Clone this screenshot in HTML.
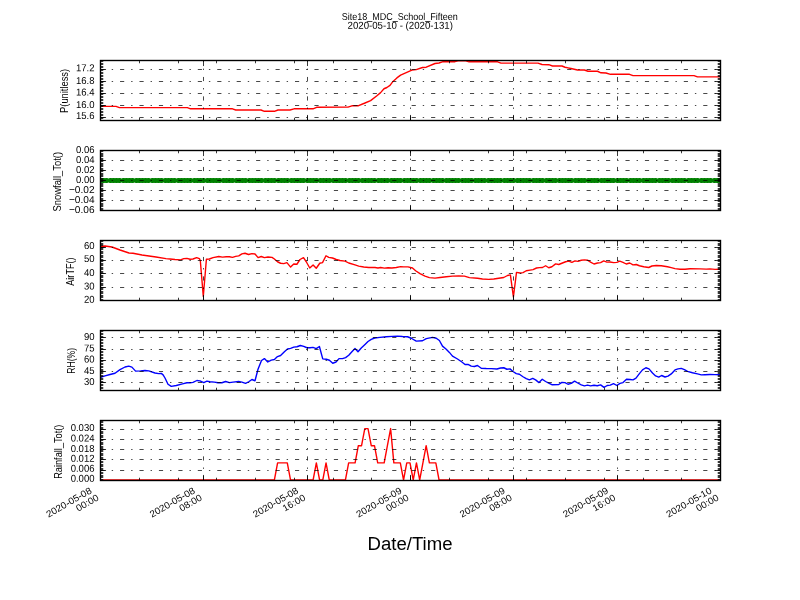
<!DOCTYPE html>
<html><head><meta charset="utf-8"><title>Site18_MDC_School_Fifteen</title>
<style>
html,body{margin:0;padding:0;background:#fff;}
body{width:800px;height:600px;overflow:hidden;position:relative;font-family:"Liberation Sans",sans-serif;}
svg text{font-family:"Liberation Sans",sans-serif;fill:#000;}
svg text.t{font-size:10px;}
svg text.x{font-size:9.4px;}
</style></head><body>
<svg width="800" height="600" viewBox="0 0 800 600" style="position:absolute;left:0;top:0;will-change:transform">
<rect x="0" y="0" width="800" height="600" fill="#fff"/>
<defs>
<clipPath id="c0"><rect x="100" y="60" width="620" height="60"/></clipPath>
<clipPath id="c1"><rect x="100" y="150" width="620" height="60"/></clipPath>
<clipPath id="c2"><rect x="100" y="240" width="620" height="60"/></clipPath>
<clipPath id="c3"><rect x="100" y="330" width="620" height="60"/></clipPath>
<clipPath id="c4"><rect x="100" y="420" width="620" height="60"/></clipPath>
</defs>
<g clip-path="url(#c0)">
<polyline points="100.00,106.40 116.00,106.40 119.40,107.60 187.40,107.60 190.50,108.80 232.50,108.80 235.70,110.00 261.00,110.00 264.40,111.30 274.40,111.30 278.00,110.00 290.00,110.00 294.00,108.80 313.00,108.80 316.60,107.30 348.00,107.10 351.90,105.80 358.00,105.80 364.40,103.25 370.60,100.60 376.90,95.75 380.60,92.60 384.00,88.75 386.90,87.50 390.00,85.40 393.00,81.40 396.90,77.90 400.60,75.10 406.25,72.60 411.90,70.10 416.25,69.60 422.50,67.50 426.25,67.20 435.00,63.50 439.00,63.00 443.00,61.70 455.00,61.70 459.00,60.70 465.00,60.70 469.00,61.80 497.60,61.80 501.00,63.10 538.00,63.10 542.00,64.50 548.75,64.70 552.50,66.00 562.00,66.00 565.00,67.25 568.00,67.90 571.00,68.50 577.50,70.00 584.40,70.00 588.00,71.25 597.50,71.25 601.00,72.80 606.00,73.00 610.50,74.30 629.50,74.30 633.00,75.60 694.00,75.60 697.50,76.90 720.00,76.90" fill="none" stroke="#ff0000" stroke-width="1.39" stroke-linejoin="round" stroke-linecap="butt"/>
</g>
<path d="M100.6 117.5H720 M100.6 105.5H720 M100.6 93.5H720 M100.6 81.5H720 M100.6 69.5H720 M100.5 120V60 M203.5 120V60 M307.5 120V60 M410.5 120V60 M513.5 120V60 M617.5 120V60 M720.5 120V60" fill="none" stroke="#000" stroke-width="0.72" stroke-dasharray="4.17 6.94 1.39 6.94"/>
<path d="M100.5 120.5v-5.56 M100.5 60.5v5.56 M203.5 120.5v-5.56 M203.5 60.5v5.56 M307.5 120.5v-5.56 M307.5 60.5v5.56 M410.5 120.5v-5.56 M410.5 60.5v5.56 M513.5 120.5v-5.56 M513.5 60.5v5.56 M617.5 120.5v-5.56 M617.5 60.5v5.56 M720.5 120.5v-5.56 M720.5 60.5v5.56 M100.5 120.5v-2.78 M100.5 60.5v2.78 M139.5 120.5v-2.78 M139.5 60.5v2.78 M178.5 120.5v-2.78 M178.5 60.5v2.78 M216.5 120.5v-2.78 M216.5 60.5v2.78 M255.5 120.5v-2.78 M255.5 60.5v2.78 M294.5 120.5v-2.78 M294.5 60.5v2.78 M333.5 120.5v-2.78 M333.5 60.5v2.78 M371.5 120.5v-2.78 M371.5 60.5v2.78 M410.5 120.5v-2.78 M410.5 60.5v2.78 M449.5 120.5v-2.78 M449.5 60.5v2.78 M488.5 120.5v-2.78 M488.5 60.5v2.78 M526.5 120.5v-2.78 M526.5 60.5v2.78 M565.5 120.5v-2.78 M565.5 60.5v2.78 M604.5 120.5v-2.78 M604.5 60.5v2.78 M643.5 120.5v-2.78 M643.5 60.5v2.78 M681.5 120.5v-2.78 M681.5 60.5v2.78 M720.5 120.5v-2.78 M720.5 60.5v2.78 M100.5 117.5h5.56 M720.5 117.5h-5.56 M100.5 105.5h5.56 M720.5 105.5h-5.56 M100.5 93.5h5.56 M720.5 93.5h-5.56 M100.5 81.5h5.56 M720.5 81.5h-5.56 M100.5 69.5h5.56 M720.5 69.5h-5.56 M100.5 120.5h2.78 M720.5 120.5h-2.78 M100.5 118.5h2.78 M720.5 118.5h-2.78 M100.5 117.5h2.78 M720.5 117.5h-2.78 M100.5 115.5h2.78 M720.5 115.5h-2.78 M100.5 114.5h2.78 M720.5 114.5h-2.78 M100.5 112.5h2.78 M720.5 112.5h-2.78 M100.5 111.5h2.78 M720.5 111.5h-2.78 M100.5 109.5h2.78 M720.5 109.5h-2.78 M100.5 108.5h2.78 M720.5 108.5h-2.78 M100.5 106.5h2.78 M720.5 106.5h-2.78 M100.5 105.5h2.78 M720.5 105.5h-2.78 M100.5 103.5h2.78 M720.5 103.5h-2.78 M100.5 102.5h2.78 M720.5 102.5h-2.78 M100.5 100.5h2.78 M720.5 100.5h-2.78 M100.5 99.5h2.78 M720.5 99.5h-2.78 M100.5 97.5h2.78 M720.5 97.5h-2.78 M100.5 96.5h2.78 M720.5 96.5h-2.78 M100.5 94.5h2.78 M720.5 94.5h-2.78 M100.5 93.5h2.78 M720.5 93.5h-2.78 M100.5 91.5h2.78 M720.5 91.5h-2.78 M100.5 90.5h2.78 M720.5 90.5h-2.78 M100.5 88.5h2.78 M720.5 88.5h-2.78 M100.5 87.5h2.78 M720.5 87.5h-2.78 M100.5 85.5h2.78 M720.5 85.5h-2.78 M100.5 84.5h2.78 M720.5 84.5h-2.78 M100.5 82.5h2.78 M720.5 82.5h-2.78 M100.5 81.5h2.78 M720.5 81.5h-2.78 M100.5 79.5h2.78 M720.5 79.5h-2.78 M100.5 78.5h2.78 M720.5 78.5h-2.78 M100.5 76.5h2.78 M720.5 76.5h-2.78 M100.5 75.5h2.78 M720.5 75.5h-2.78 M100.5 73.5h2.78 M720.5 73.5h-2.78 M100.5 72.5h2.78 M720.5 72.5h-2.78 M100.5 70.5h2.78 M720.5 70.5h-2.78 M100.5 69.5h2.78 M720.5 69.5h-2.78 M100.5 67.5h2.78 M720.5 67.5h-2.78 M100.5 66.5h2.78 M720.5 66.5h-2.78 M100.5 64.5h2.78 M720.5 64.5h-2.78 M100.5 63.5h2.78 M720.5 63.5h-2.78 M100.5 61.5h2.78 M720.5 61.5h-2.78 M100.5 60.5h2.78 M720.5 60.5h-2.78" fill="none" stroke="#000" stroke-width="0.78"/>
<rect x="100.5" y="60.5" width="620" height="60" fill="none" stroke="#000" stroke-width="1.39"/>
<text class="t" transform="rotate(0.05 94.5 119.14)" x="94.5" y="119.14" text-anchor="end" textLength="18.55" lengthAdjust="spacingAndGlyphs">15.6</text>
<text class="t" transform="rotate(0.05 94.5 108.04)" x="94.5" y="108.04" text-anchor="end" textLength="18.55" lengthAdjust="spacingAndGlyphs">16.0</text>
<text class="t" transform="rotate(0.05 94.5 95.54)" x="94.5" y="95.54" text-anchor="end" textLength="18.55" lengthAdjust="spacingAndGlyphs">16.4</text>
<text class="t" transform="rotate(0.05 94.5 84.14)" x="94.5" y="84.14" text-anchor="end" textLength="18.55" lengthAdjust="spacingAndGlyphs">16.8</text>
<text class="t" transform="rotate(0.05 94.5 71.24)" x="94.5" y="71.24" text-anchor="end" textLength="18.55" lengthAdjust="spacingAndGlyphs">17.2</text>
<text class="t" transform="translate(67.60 90.90) rotate(-90)" text-anchor="middle" textLength="44.1" lengthAdjust="spacingAndGlyphs">P(unitless)</text>
<g clip-path="url(#c1)">
<rect x="98.05" y="178.0" width="4.9" height="4.95" rx="1.8" fill="#008000"/>
<rect x="101.05" y="178.0" width="4.9" height="4.95" rx="1.8" fill="#008000"/>
<rect x="104.05" y="178.0" width="4.9" height="4.95" rx="1.8" fill="#008000"/>
<rect x="108.05" y="178.0" width="4.9" height="4.95" rx="1.8" fill="#008000"/>
<rect x="111.05" y="178.0" width="4.9" height="4.95" rx="1.8" fill="#008000"/>
<rect x="114.05" y="178.0" width="4.9" height="4.95" rx="1.8" fill="#008000"/>
<rect x="117.05" y="178.0" width="4.9" height="4.95" rx="1.8" fill="#008000"/>
<rect x="121.05" y="178.0" width="4.9" height="4.95" rx="1.8" fill="#008000"/>
<rect x="124.05" y="178.0" width="4.9" height="4.95" rx="1.8" fill="#008000"/>
<rect x="127.05" y="178.0" width="4.9" height="4.95" rx="1.8" fill="#008000"/>
<rect x="130.05" y="178.0" width="4.9" height="4.95" rx="1.8" fill="#008000"/>
<rect x="134.05" y="178.0" width="4.9" height="4.95" rx="1.8" fill="#008000"/>
<rect x="137.05" y="178.0" width="4.9" height="4.95" rx="1.8" fill="#008000"/>
<rect x="140.05" y="178.0" width="4.9" height="4.95" rx="1.8" fill="#008000"/>
<rect x="143.05" y="178.0" width="4.9" height="4.95" rx="1.8" fill="#008000"/>
<rect x="146.05" y="178.0" width="4.9" height="4.95" rx="1.8" fill="#008000"/>
<rect x="150.05" y="178.0" width="4.9" height="4.95" rx="1.8" fill="#008000"/>
<rect x="153.05" y="178.0" width="4.9" height="4.95" rx="1.8" fill="#008000"/>
<rect x="156.05" y="178.0" width="4.9" height="4.95" rx="1.8" fill="#008000"/>
<rect x="159.05" y="178.0" width="4.9" height="4.95" rx="1.8" fill="#008000"/>
<rect x="163.05" y="178.0" width="4.9" height="4.95" rx="1.8" fill="#008000"/>
<rect x="166.05" y="178.0" width="4.9" height="4.95" rx="1.8" fill="#008000"/>
<rect x="169.05" y="178.0" width="4.9" height="4.95" rx="1.8" fill="#008000"/>
<rect x="172.05" y="178.0" width="4.9" height="4.95" rx="1.8" fill="#008000"/>
<rect x="176.05" y="178.0" width="4.9" height="4.95" rx="1.8" fill="#008000"/>
<rect x="179.05" y="178.0" width="4.9" height="4.95" rx="1.8" fill="#008000"/>
<rect x="182.05" y="178.0" width="4.9" height="4.95" rx="1.8" fill="#008000"/>
<rect x="185.05" y="178.0" width="4.9" height="4.95" rx="1.8" fill="#008000"/>
<rect x="188.05" y="178.0" width="4.9" height="4.95" rx="1.8" fill="#008000"/>
<rect x="192.05" y="178.0" width="4.9" height="4.95" rx="1.8" fill="#008000"/>
<rect x="195.05" y="178.0" width="4.9" height="4.95" rx="1.8" fill="#008000"/>
<rect x="198.05" y="178.0" width="4.9" height="4.95" rx="1.8" fill="#008000"/>
<rect x="201.05" y="178.0" width="4.9" height="4.95" rx="1.8" fill="#008000"/>
<rect x="205.05" y="178.0" width="4.9" height="4.95" rx="1.8" fill="#008000"/>
<rect x="208.05" y="178.0" width="4.9" height="4.95" rx="1.8" fill="#008000"/>
<rect x="211.05" y="178.0" width="4.9" height="4.95" rx="1.8" fill="#008000"/>
<rect x="214.05" y="178.0" width="4.9" height="4.95" rx="1.8" fill="#008000"/>
<rect x="217.05" y="178.0" width="4.9" height="4.95" rx="1.8" fill="#008000"/>
<rect x="221.05" y="178.0" width="4.9" height="4.95" rx="1.8" fill="#008000"/>
<rect x="224.05" y="178.0" width="4.9" height="4.95" rx="1.8" fill="#008000"/>
<rect x="227.05" y="178.0" width="4.9" height="4.95" rx="1.8" fill="#008000"/>
<rect x="230.05" y="178.0" width="4.9" height="4.95" rx="1.8" fill="#008000"/>
<rect x="234.05" y="178.0" width="4.9" height="4.95" rx="1.8" fill="#008000"/>
<rect x="237.05" y="178.0" width="4.9" height="4.95" rx="1.8" fill="#008000"/>
<rect x="240.05" y="178.0" width="4.9" height="4.95" rx="1.8" fill="#008000"/>
<rect x="243.05" y="178.0" width="4.9" height="4.95" rx="1.8" fill="#008000"/>
<rect x="247.05" y="178.0" width="4.9" height="4.95" rx="1.8" fill="#008000"/>
<rect x="250.05" y="178.0" width="4.9" height="4.95" rx="1.8" fill="#008000"/>
<rect x="253.05" y="178.0" width="4.9" height="4.95" rx="1.8" fill="#008000"/>
<rect x="256.05" y="178.0" width="4.9" height="4.95" rx="1.8" fill="#008000"/>
<rect x="259.05" y="178.0" width="4.9" height="4.95" rx="1.8" fill="#008000"/>
<rect x="263.05" y="178.0" width="4.9" height="4.95" rx="1.8" fill="#008000"/>
<rect x="266.05" y="178.0" width="4.9" height="4.95" rx="1.8" fill="#008000"/>
<rect x="269.05" y="178.0" width="4.9" height="4.95" rx="1.8" fill="#008000"/>
<rect x="272.05" y="178.0" width="4.9" height="4.95" rx="1.8" fill="#008000"/>
<rect x="276.05" y="178.0" width="4.9" height="4.95" rx="1.8" fill="#008000"/>
<rect x="279.05" y="178.0" width="4.9" height="4.95" rx="1.8" fill="#008000"/>
<rect x="282.05" y="178.0" width="4.9" height="4.95" rx="1.8" fill="#008000"/>
<rect x="285.05" y="178.0" width="4.9" height="4.95" rx="1.8" fill="#008000"/>
<rect x="289.05" y="178.0" width="4.9" height="4.95" rx="1.8" fill="#008000"/>
<rect x="292.05" y="178.0" width="4.9" height="4.95" rx="1.8" fill="#008000"/>
<rect x="295.05" y="178.0" width="4.9" height="4.95" rx="1.8" fill="#008000"/>
<rect x="298.05" y="178.0" width="4.9" height="4.95" rx="1.8" fill="#008000"/>
<rect x="301.05" y="178.0" width="4.9" height="4.95" rx="1.8" fill="#008000"/>
<rect x="305.05" y="178.0" width="4.9" height="4.95" rx="1.8" fill="#008000"/>
<rect x="308.05" y="178.0" width="4.9" height="4.95" rx="1.8" fill="#008000"/>
<rect x="311.05" y="178.0" width="4.9" height="4.95" rx="1.8" fill="#008000"/>
<rect x="314.05" y="178.0" width="4.9" height="4.95" rx="1.8" fill="#008000"/>
<rect x="318.05" y="178.0" width="4.9" height="4.95" rx="1.8" fill="#008000"/>
<rect x="321.05" y="178.0" width="4.9" height="4.95" rx="1.8" fill="#008000"/>
<rect x="324.05" y="178.0" width="4.9" height="4.95" rx="1.8" fill="#008000"/>
<rect x="327.05" y="178.0" width="4.9" height="4.95" rx="1.8" fill="#008000"/>
<rect x="331.05" y="178.0" width="4.9" height="4.95" rx="1.8" fill="#008000"/>
<rect x="334.05" y="178.0" width="4.9" height="4.95" rx="1.8" fill="#008000"/>
<rect x="337.05" y="178.0" width="4.9" height="4.95" rx="1.8" fill="#008000"/>
<rect x="340.05" y="178.0" width="4.9" height="4.95" rx="1.8" fill="#008000"/>
<rect x="343.05" y="178.0" width="4.9" height="4.95" rx="1.8" fill="#008000"/>
<rect x="347.05" y="178.0" width="4.9" height="4.95" rx="1.8" fill="#008000"/>
<rect x="350.05" y="178.0" width="4.9" height="4.95" rx="1.8" fill="#008000"/>
<rect x="353.05" y="178.0" width="4.9" height="4.95" rx="1.8" fill="#008000"/>
<rect x="356.05" y="178.0" width="4.9" height="4.95" rx="1.8" fill="#008000"/>
<rect x="360.05" y="178.0" width="4.9" height="4.95" rx="1.8" fill="#008000"/>
<rect x="363.05" y="178.0" width="4.9" height="4.95" rx="1.8" fill="#008000"/>
<rect x="366.05" y="178.0" width="4.9" height="4.95" rx="1.8" fill="#008000"/>
<rect x="369.05" y="178.0" width="4.9" height="4.95" rx="1.8" fill="#008000"/>
<rect x="372.05" y="178.0" width="4.9" height="4.95" rx="1.8" fill="#008000"/>
<rect x="376.05" y="178.0" width="4.9" height="4.95" rx="1.8" fill="#008000"/>
<rect x="379.05" y="178.0" width="4.9" height="4.95" rx="1.8" fill="#008000"/>
<rect x="382.05" y="178.0" width="4.9" height="4.95" rx="1.8" fill="#008000"/>
<rect x="385.05" y="178.0" width="4.9" height="4.95" rx="1.8" fill="#008000"/>
<rect x="389.05" y="178.0" width="4.9" height="4.95" rx="1.8" fill="#008000"/>
<rect x="392.05" y="178.0" width="4.9" height="4.95" rx="1.8" fill="#008000"/>
<rect x="395.05" y="178.0" width="4.9" height="4.95" rx="1.8" fill="#008000"/>
<rect x="398.05" y="178.0" width="4.9" height="4.95" rx="1.8" fill="#008000"/>
<rect x="402.05" y="178.0" width="4.9" height="4.95" rx="1.8" fill="#008000"/>
<rect x="405.05" y="178.0" width="4.9" height="4.95" rx="1.8" fill="#008000"/>
<rect x="408.05" y="178.0" width="4.9" height="4.95" rx="1.8" fill="#008000"/>
<rect x="411.05" y="178.0" width="4.9" height="4.95" rx="1.8" fill="#008000"/>
<rect x="414.05" y="178.0" width="4.9" height="4.95" rx="1.8" fill="#008000"/>
<rect x="418.05" y="178.0" width="4.9" height="4.95" rx="1.8" fill="#008000"/>
<rect x="421.05" y="178.0" width="4.9" height="4.95" rx="1.8" fill="#008000"/>
<rect x="424.05" y="178.0" width="4.9" height="4.95" rx="1.8" fill="#008000"/>
<rect x="427.05" y="178.0" width="4.9" height="4.95" rx="1.8" fill="#008000"/>
<rect x="431.05" y="178.0" width="4.9" height="4.95" rx="1.8" fill="#008000"/>
<rect x="434.05" y="178.0" width="4.9" height="4.95" rx="1.8" fill="#008000"/>
<rect x="437.05" y="178.0" width="4.9" height="4.95" rx="1.8" fill="#008000"/>
<rect x="440.05" y="178.0" width="4.9" height="4.95" rx="1.8" fill="#008000"/>
<rect x="444.05" y="178.0" width="4.9" height="4.95" rx="1.8" fill="#008000"/>
<rect x="447.05" y="178.0" width="4.9" height="4.95" rx="1.8" fill="#008000"/>
<rect x="450.05" y="178.0" width="4.9" height="4.95" rx="1.8" fill="#008000"/>
<rect x="453.05" y="178.0" width="4.9" height="4.95" rx="1.8" fill="#008000"/>
<rect x="456.05" y="178.0" width="4.9" height="4.95" rx="1.8" fill="#008000"/>
<rect x="460.05" y="178.0" width="4.9" height="4.95" rx="1.8" fill="#008000"/>
<rect x="463.05" y="178.0" width="4.9" height="4.95" rx="1.8" fill="#008000"/>
<rect x="466.05" y="178.0" width="4.9" height="4.95" rx="1.8" fill="#008000"/>
<rect x="469.05" y="178.0" width="4.9" height="4.95" rx="1.8" fill="#008000"/>
<rect x="473.05" y="178.0" width="4.9" height="4.95" rx="1.8" fill="#008000"/>
<rect x="476.05" y="178.0" width="4.9" height="4.95" rx="1.8" fill="#008000"/>
<rect x="479.05" y="178.0" width="4.9" height="4.95" rx="1.8" fill="#008000"/>
<rect x="482.05" y="178.0" width="4.9" height="4.95" rx="1.8" fill="#008000"/>
<rect x="486.05" y="178.0" width="4.9" height="4.95" rx="1.8" fill="#008000"/>
<rect x="489.05" y="178.0" width="4.9" height="4.95" rx="1.8" fill="#008000"/>
<rect x="492.05" y="178.0" width="4.9" height="4.95" rx="1.8" fill="#008000"/>
<rect x="495.05" y="178.0" width="4.9" height="4.95" rx="1.8" fill="#008000"/>
<rect x="498.05" y="178.0" width="4.9" height="4.95" rx="1.8" fill="#008000"/>
<rect x="502.05" y="178.0" width="4.9" height="4.95" rx="1.8" fill="#008000"/>
<rect x="505.05" y="178.0" width="4.9" height="4.95" rx="1.8" fill="#008000"/>
<rect x="508.05" y="178.0" width="4.9" height="4.95" rx="1.8" fill="#008000"/>
<rect x="511.05" y="178.0" width="4.9" height="4.95" rx="1.8" fill="#008000"/>
<rect x="515.05" y="178.0" width="4.9" height="4.95" rx="1.8" fill="#008000"/>
<rect x="518.05" y="178.0" width="4.9" height="4.95" rx="1.8" fill="#008000"/>
<rect x="521.05" y="178.0" width="4.9" height="4.95" rx="1.8" fill="#008000"/>
<rect x="524.05" y="178.0" width="4.9" height="4.95" rx="1.8" fill="#008000"/>
<rect x="527.05" y="178.0" width="4.9" height="4.95" rx="1.8" fill="#008000"/>
<rect x="531.05" y="178.0" width="4.9" height="4.95" rx="1.8" fill="#008000"/>
<rect x="534.05" y="178.0" width="4.9" height="4.95" rx="1.8" fill="#008000"/>
<rect x="537.05" y="178.0" width="4.9" height="4.95" rx="1.8" fill="#008000"/>
<rect x="540.05" y="178.0" width="4.9" height="4.95" rx="1.8" fill="#008000"/>
<rect x="544.05" y="178.0" width="4.9" height="4.95" rx="1.8" fill="#008000"/>
<rect x="547.05" y="178.0" width="4.9" height="4.95" rx="1.8" fill="#008000"/>
<rect x="550.05" y="178.0" width="4.9" height="4.95" rx="1.8" fill="#008000"/>
<rect x="553.05" y="178.0" width="4.9" height="4.95" rx="1.8" fill="#008000"/>
<rect x="557.05" y="178.0" width="4.9" height="4.95" rx="1.8" fill="#008000"/>
<rect x="560.05" y="178.0" width="4.9" height="4.95" rx="1.8" fill="#008000"/>
<rect x="563.05" y="178.0" width="4.9" height="4.95" rx="1.8" fill="#008000"/>
<rect x="566.05" y="178.0" width="4.9" height="4.95" rx="1.8" fill="#008000"/>
<rect x="569.05" y="178.0" width="4.9" height="4.95" rx="1.8" fill="#008000"/>
<rect x="573.05" y="178.0" width="4.9" height="4.95" rx="1.8" fill="#008000"/>
<rect x="576.05" y="178.0" width="4.9" height="4.95" rx="1.8" fill="#008000"/>
<rect x="579.05" y="178.0" width="4.9" height="4.95" rx="1.8" fill="#008000"/>
<rect x="582.05" y="178.0" width="4.9" height="4.95" rx="1.8" fill="#008000"/>
<rect x="586.05" y="178.0" width="4.9" height="4.95" rx="1.8" fill="#008000"/>
<rect x="589.05" y="178.0" width="4.9" height="4.95" rx="1.8" fill="#008000"/>
<rect x="592.05" y="178.0" width="4.9" height="4.95" rx="1.8" fill="#008000"/>
<rect x="595.05" y="178.0" width="4.9" height="4.95" rx="1.8" fill="#008000"/>
<rect x="599.05" y="178.0" width="4.9" height="4.95" rx="1.8" fill="#008000"/>
<rect x="602.05" y="178.0" width="4.9" height="4.95" rx="1.8" fill="#008000"/>
<rect x="605.05" y="178.0" width="4.9" height="4.95" rx="1.8" fill="#008000"/>
<rect x="608.05" y="178.0" width="4.9" height="4.95" rx="1.8" fill="#008000"/>
<rect x="611.05" y="178.0" width="4.9" height="4.95" rx="1.8" fill="#008000"/>
<rect x="615.05" y="178.0" width="4.9" height="4.95" rx="1.8" fill="#008000"/>
<rect x="618.05" y="178.0" width="4.9" height="4.95" rx="1.8" fill="#008000"/>
<rect x="621.05" y="178.0" width="4.9" height="4.95" rx="1.8" fill="#008000"/>
<rect x="624.05" y="178.0" width="4.9" height="4.95" rx="1.8" fill="#008000"/>
<rect x="628.05" y="178.0" width="4.9" height="4.95" rx="1.8" fill="#008000"/>
<rect x="631.05" y="178.0" width="4.9" height="4.95" rx="1.8" fill="#008000"/>
<rect x="634.05" y="178.0" width="4.9" height="4.95" rx="1.8" fill="#008000"/>
<rect x="637.05" y="178.0" width="4.9" height="4.95" rx="1.8" fill="#008000"/>
<rect x="641.05" y="178.0" width="4.9" height="4.95" rx="1.8" fill="#008000"/>
<rect x="644.05" y="178.0" width="4.9" height="4.95" rx="1.8" fill="#008000"/>
<rect x="647.05" y="178.0" width="4.9" height="4.95" rx="1.8" fill="#008000"/>
<rect x="650.05" y="178.0" width="4.9" height="4.95" rx="1.8" fill="#008000"/>
<rect x="653.05" y="178.0" width="4.9" height="4.95" rx="1.8" fill="#008000"/>
<rect x="657.05" y="178.0" width="4.9" height="4.95" rx="1.8" fill="#008000"/>
<rect x="660.05" y="178.0" width="4.9" height="4.95" rx="1.8" fill="#008000"/>
<rect x="663.05" y="178.0" width="4.9" height="4.95" rx="1.8" fill="#008000"/>
<rect x="666.05" y="178.0" width="4.9" height="4.95" rx="1.8" fill="#008000"/>
<rect x="670.05" y="178.0" width="4.9" height="4.95" rx="1.8" fill="#008000"/>
<rect x="673.05" y="178.0" width="4.9" height="4.95" rx="1.8" fill="#008000"/>
<rect x="676.05" y="178.0" width="4.9" height="4.95" rx="1.8" fill="#008000"/>
<rect x="679.05" y="178.0" width="4.9" height="4.95" rx="1.8" fill="#008000"/>
<rect x="682.05" y="178.0" width="4.9" height="4.95" rx="1.8" fill="#008000"/>
<rect x="686.05" y="178.0" width="4.9" height="4.95" rx="1.8" fill="#008000"/>
<rect x="689.05" y="178.0" width="4.9" height="4.95" rx="1.8" fill="#008000"/>
<rect x="692.05" y="178.0" width="4.9" height="4.95" rx="1.8" fill="#008000"/>
<rect x="695.05" y="178.0" width="4.9" height="4.95" rx="1.8" fill="#008000"/>
<rect x="699.05" y="178.0" width="4.9" height="4.95" rx="1.8" fill="#008000"/>
<rect x="702.05" y="178.0" width="4.9" height="4.95" rx="1.8" fill="#008000"/>
<rect x="705.05" y="178.0" width="4.9" height="4.95" rx="1.8" fill="#008000"/>
<rect x="708.05" y="178.0" width="4.9" height="4.95" rx="1.8" fill="#008000"/>
<rect x="712.05" y="178.0" width="4.9" height="4.95" rx="1.8" fill="#008000"/>
<rect x="715.05" y="178.0" width="4.9" height="4.95" rx="1.8" fill="#008000"/>
<rect x="718.05" y="178.0" width="4.9" height="4.95" rx="1.8" fill="#008000"/>
</g>
<path d="M100.6 210.5H720 M100.6 200.5H720 M100.6 190.5H720 M100.6 180.5H720 M100.6 170.5H720 M100.6 160.5H720 M100.6 150.5H720 M100.5 210V150 M203.5 210V150 M307.5 210V150 M410.5 210V150 M513.5 210V150 M617.5 210V150 M720.5 210V150" fill="none" stroke="#000" stroke-width="0.72" stroke-dasharray="4.17 6.94 1.39 6.94"/>
<path d="M100.5 210.5v-5.56 M100.5 150.5v5.56 M203.5 210.5v-5.56 M203.5 150.5v5.56 M307.5 210.5v-5.56 M307.5 150.5v5.56 M410.5 210.5v-5.56 M410.5 150.5v5.56 M513.5 210.5v-5.56 M513.5 150.5v5.56 M617.5 210.5v-5.56 M617.5 150.5v5.56 M720.5 210.5v-5.56 M720.5 150.5v5.56 M100.5 210.5v-2.78 M100.5 150.5v2.78 M139.5 210.5v-2.78 M139.5 150.5v2.78 M178.5 210.5v-2.78 M178.5 150.5v2.78 M216.5 210.5v-2.78 M216.5 150.5v2.78 M255.5 210.5v-2.78 M255.5 150.5v2.78 M294.5 210.5v-2.78 M294.5 150.5v2.78 M333.5 210.5v-2.78 M333.5 150.5v2.78 M371.5 210.5v-2.78 M371.5 150.5v2.78 M410.5 210.5v-2.78 M410.5 150.5v2.78 M449.5 210.5v-2.78 M449.5 150.5v2.78 M488.5 210.5v-2.78 M488.5 150.5v2.78 M526.5 210.5v-2.78 M526.5 150.5v2.78 M565.5 210.5v-2.78 M565.5 150.5v2.78 M604.5 210.5v-2.78 M604.5 150.5v2.78 M643.5 210.5v-2.78 M643.5 150.5v2.78 M681.5 210.5v-2.78 M681.5 150.5v2.78 M720.5 210.5v-2.78 M720.5 150.5v2.78 M100.5 210.5h5.56 M720.5 210.5h-5.56 M100.5 200.5h5.56 M720.5 200.5h-5.56 M100.5 190.5h5.56 M720.5 190.5h-5.56 M100.5 180.5h5.56 M720.5 180.5h-5.56 M100.5 170.5h5.56 M720.5 170.5h-5.56 M100.5 160.5h5.56 M720.5 160.5h-5.56 M100.5 150.5h5.56 M720.5 150.5h-5.56 M100.5 210.5h2.78 M720.5 210.5h-2.78 M100.5 209.5h2.78 M720.5 209.5h-2.78 M100.5 208.5h2.78 M720.5 208.5h-2.78 M100.5 206.5h2.78 M720.5 206.5h-2.78 M100.5 205.5h2.78 M720.5 205.5h-2.78 M100.5 204.5h2.78 M720.5 204.5h-2.78 M100.5 203.5h2.78 M720.5 203.5h-2.78 M100.5 201.5h2.78 M720.5 201.5h-2.78 M100.5 200.5h2.78 M720.5 200.5h-2.78 M100.5 199.5h2.78 M720.5 199.5h-2.78 M100.5 198.5h2.78 M720.5 198.5h-2.78 M100.5 196.5h2.78 M720.5 196.5h-2.78 M100.5 195.5h2.78 M720.5 195.5h-2.78 M100.5 194.5h2.78 M720.5 194.5h-2.78 M100.5 193.5h2.78 M720.5 193.5h-2.78 M100.5 191.5h2.78 M720.5 191.5h-2.78 M100.5 190.5h2.78 M720.5 190.5h-2.78 M100.5 189.5h2.78 M720.5 189.5h-2.78 M100.5 188.5h2.78 M720.5 188.5h-2.78 M100.5 186.5h2.78 M720.5 186.5h-2.78 M100.5 185.5h2.78 M720.5 185.5h-2.78 M100.5 184.5h2.78 M720.5 184.5h-2.78 M100.5 183.5h2.78 M720.5 183.5h-2.78 M100.5 181.5h2.78 M720.5 181.5h-2.78 M100.5 180.5h2.78 M720.5 180.5h-2.78 M100.5 179.5h2.78 M720.5 179.5h-2.78 M100.5 178.5h2.78 M720.5 178.5h-2.78 M100.5 176.5h2.78 M720.5 176.5h-2.78 M100.5 175.5h2.78 M720.5 175.5h-2.78 M100.5 174.5h2.78 M720.5 174.5h-2.78 M100.5 173.5h2.78 M720.5 173.5h-2.78 M100.5 171.5h2.78 M720.5 171.5h-2.78 M100.5 170.5h2.78 M720.5 170.5h-2.78 M100.5 169.5h2.78 M720.5 169.5h-2.78 M100.5 168.5h2.78 M720.5 168.5h-2.78 M100.5 166.5h2.78 M720.5 166.5h-2.78 M100.5 165.5h2.78 M720.5 165.5h-2.78 M100.5 164.5h2.78 M720.5 164.5h-2.78 M100.5 163.5h2.78 M720.5 163.5h-2.78 M100.5 161.5h2.78 M720.5 161.5h-2.78 M100.5 160.5h2.78 M720.5 160.5h-2.78 M100.5 159.5h2.78 M720.5 159.5h-2.78 M100.5 158.5h2.78 M720.5 158.5h-2.78 M100.5 156.5h2.78 M720.5 156.5h-2.78 M100.5 155.5h2.78 M720.5 155.5h-2.78 M100.5 154.5h2.78 M720.5 154.5h-2.78 M100.5 153.5h2.78 M720.5 153.5h-2.78 M100.5 151.5h2.78 M720.5 151.5h-2.78 M100.5 150.5h2.78 M720.5 150.5h-2.78" fill="none" stroke="#000" stroke-width="0.78"/>
<rect x="100.5" y="150.5" width="620" height="60" fill="none" stroke="#000" stroke-width="1.39"/>
<text class="t" transform="rotate(0.05 94.5 212.94)" x="94.5" y="212.94" text-anchor="end" textLength="25.53" lengthAdjust="spacingAndGlyphs">−0.06</text>
<text class="t" transform="rotate(0.05 94.5 202.94)" x="94.5" y="202.94" text-anchor="end" textLength="25.53" lengthAdjust="spacingAndGlyphs">−0.04</text>
<text class="t" transform="rotate(0.05 94.5 192.94)" x="94.5" y="192.94" text-anchor="end" textLength="25.53" lengthAdjust="spacingAndGlyphs">−0.02</text>
<text class="t" transform="rotate(0.05 94.5 182.94)" x="94.5" y="182.94" text-anchor="end" textLength="18.55" lengthAdjust="spacingAndGlyphs">0.00</text>
<text class="t" transform="rotate(0.05 94.5 172.94)" x="94.5" y="172.94" text-anchor="end" textLength="18.55" lengthAdjust="spacingAndGlyphs">0.02</text>
<text class="t" transform="rotate(0.05 94.5 162.94)" x="94.5" y="162.94" text-anchor="end" textLength="18.55" lengthAdjust="spacingAndGlyphs">0.04</text>
<text class="t" transform="rotate(0.05 94.5 152.94)" x="94.5" y="152.94" text-anchor="end" textLength="18.55" lengthAdjust="spacingAndGlyphs">0.06</text>
<text class="t" transform="translate(60.60 181.70) rotate(-90)" text-anchor="middle" textLength="59.5" lengthAdjust="spacingAndGlyphs">Snowfall_Tot()</text>
<g clip-path="url(#c2)">
<polyline points="100.00,246.50 105.00,246.00 112.00,247.00 120.00,250.00 129.00,253.00 133.00,253.20 142.00,255.00 156.00,257.00 166.00,258.60 170.00,259.00 175.00,259.50 180.60,259.90 183.75,258.60 186.90,258.40 190.00,259.25 193.00,259.00 196.60,257.60 199.40,258.60 200.30,260.50 203.30,296.50 206.40,259.30 209.40,259.00 213.00,257.60 218.75,256.50 222.50,257.10 226.25,256.75 229.40,256.75 232.50,257.40 235.60,256.40 238.75,255.90 241.90,253.90 245.00,253.25 248.50,254.50 251.90,253.60 255.00,254.00 258.10,257.60 261.25,256.50 264.40,257.60 268.00,257.00 272.00,257.40 274.40,259.00 277.50,261.75 280.60,263.25 283.75,263.60 286.90,262.60 290.60,267.10 293.75,264.00 296.90,264.25 300.00,259.50 303.50,257.60 306.25,261.75 309.75,268.00 313.10,264.90 316.25,268.25 319.75,263.25 322.50,262.60 326.00,255.75 328.75,257.40 332.50,258.00 336.25,259.50 340.00,260.50 345.00,261.10 348.75,263.00 355.00,264.90 358.75,266.10 363.75,267.00 368.75,267.50 375.00,267.50 378.00,268.00 380.60,267.50 384.40,268.10 388.00,267.75 391.90,268.00 396.25,267.50 400.60,266.60 403.75,266.90 408.00,266.90 412.50,268.00 415.60,270.75 420.00,273.60 425.00,276.10 429.40,277.60 435.00,278.10 440.00,277.50 446.25,276.75 452.50,276.10 458.75,275.90 464.40,276.10 469.40,277.60 477.50,278.25 482.50,279.00 488.75,279.40 493.75,279.00 498.75,278.25 503.75,277.50 507.50,275.50 510.40,274.90 513.40,297.00 516.50,272.40 520.00,273.00 523.00,272.60 526.25,270.75 530.00,270.10 533.00,269.60 536.50,268.00 539.40,267.60 542.50,267.50 545.60,265.75 548.75,267.75 551.90,266.75 555.60,263.90 558.75,264.50 562.50,263.00 565.60,261.75 568.75,261.10 571.90,262.40 575.00,260.90 578.00,261.40 581.25,260.25 584.40,259.90 587.50,260.10 590.60,262.10 594.00,264.00 597.50,263.00 600.60,262.60 603.75,260.90 606.90,262.10 610.00,262.00 613.75,262.60 616.90,262.40 619.75,261.10 623.00,262.40 626.25,264.00 629.75,263.00 633.00,264.90 636.25,264.50 639.40,265.75 643.75,266.75 648.75,267.50 651.90,266.00 656.25,265.50 661.25,265.75 667.50,266.75 671.25,267.60 675.00,268.60 680.00,269.25 685.00,269.25 690.00,268.75 700.00,268.90 706.25,269.10 710.00,268.90 715.00,269.40 720.00,269.25" fill="none" stroke="#ff0000" stroke-width="1.39" stroke-linejoin="round" stroke-linecap="butt"/>
</g>
<path d="M100.6 300.5H720 M100.6 287.5H720 M100.6 273.5H720 M100.6 260.5H720 M100.6 247.5H720 M100.5 300V240 M203.5 300V240 M307.5 300V240 M410.5 300V240 M513.5 300V240 M617.5 300V240 M720.5 300V240" fill="none" stroke="#000" stroke-width="0.72" stroke-dasharray="4.17 6.94 1.39 6.94"/>
<path d="M100.5 300.5v-5.56 M100.5 240.5v5.56 M203.5 300.5v-5.56 M203.5 240.5v5.56 M307.5 300.5v-5.56 M307.5 240.5v5.56 M410.5 300.5v-5.56 M410.5 240.5v5.56 M513.5 300.5v-5.56 M513.5 240.5v5.56 M617.5 300.5v-5.56 M617.5 240.5v5.56 M720.5 300.5v-5.56 M720.5 240.5v5.56 M100.5 300.5v-2.78 M100.5 240.5v2.78 M139.5 300.5v-2.78 M139.5 240.5v2.78 M178.5 300.5v-2.78 M178.5 240.5v2.78 M216.5 300.5v-2.78 M216.5 240.5v2.78 M255.5 300.5v-2.78 M255.5 240.5v2.78 M294.5 300.5v-2.78 M294.5 240.5v2.78 M333.5 300.5v-2.78 M333.5 240.5v2.78 M371.5 300.5v-2.78 M371.5 240.5v2.78 M410.5 300.5v-2.78 M410.5 240.5v2.78 M449.5 300.5v-2.78 M449.5 240.5v2.78 M488.5 300.5v-2.78 M488.5 240.5v2.78 M526.5 300.5v-2.78 M526.5 240.5v2.78 M565.5 300.5v-2.78 M565.5 240.5v2.78 M604.5 300.5v-2.78 M604.5 240.5v2.78 M643.5 300.5v-2.78 M643.5 240.5v2.78 M681.5 300.5v-2.78 M681.5 240.5v2.78 M720.5 300.5v-2.78 M720.5 240.5v2.78 M100.5 300.5h5.56 M720.5 300.5h-5.56 M100.5 287.5h5.56 M720.5 287.5h-5.56 M100.5 273.5h5.56 M720.5 273.5h-5.56 M100.5 260.5h5.56 M720.5 260.5h-5.56 M100.5 247.5h5.56 M720.5 247.5h-5.56 M100.5 300.5h2.78 M720.5 300.5h-2.78 M100.5 299.5h2.78 M720.5 299.5h-2.78 M100.5 297.5h2.78 M720.5 297.5h-2.78 M100.5 296.5h2.78 M720.5 296.5h-2.78 M100.5 295.5h2.78 M720.5 295.5h-2.78 M100.5 293.5h2.78 M720.5 293.5h-2.78 M100.5 292.5h2.78 M720.5 292.5h-2.78 M100.5 291.5h2.78 M720.5 291.5h-2.78 M100.5 289.5h2.78 M720.5 289.5h-2.78 M100.5 288.5h2.78 M720.5 288.5h-2.78 M100.5 287.5h2.78 M720.5 287.5h-2.78 M100.5 285.5h2.78 M720.5 285.5h-2.78 M100.5 284.5h2.78 M720.5 284.5h-2.78 M100.5 283.5h2.78 M720.5 283.5h-2.78 M100.5 281.5h2.78 M720.5 281.5h-2.78 M100.5 280.5h2.78 M720.5 280.5h-2.78 M100.5 279.5h2.78 M720.5 279.5h-2.78 M100.5 277.5h2.78 M720.5 277.5h-2.78 M100.5 276.5h2.78 M720.5 276.5h-2.78 M100.5 275.5h2.78 M720.5 275.5h-2.78 M100.5 273.5h2.78 M720.5 273.5h-2.78 M100.5 272.5h2.78 M720.5 272.5h-2.78 M100.5 271.5h2.78 M720.5 271.5h-2.78 M100.5 269.5h2.78 M720.5 269.5h-2.78 M100.5 268.5h2.78 M720.5 268.5h-2.78 M100.5 267.5h2.78 M720.5 267.5h-2.78 M100.5 265.5h2.78 M720.5 265.5h-2.78 M100.5 264.5h2.78 M720.5 264.5h-2.78 M100.5 263.5h2.78 M720.5 263.5h-2.78 M100.5 261.5h2.78 M720.5 261.5h-2.78 M100.5 260.5h2.78 M720.5 260.5h-2.78 M100.5 259.5h2.78 M720.5 259.5h-2.78 M100.5 257.5h2.78 M720.5 257.5h-2.78 M100.5 256.5h2.78 M720.5 256.5h-2.78 M100.5 255.5h2.78 M720.5 255.5h-2.78 M100.5 253.5h2.78 M720.5 253.5h-2.78 M100.5 252.5h2.78 M720.5 252.5h-2.78 M100.5 251.5h2.78 M720.5 251.5h-2.78 M100.5 249.5h2.78 M720.5 249.5h-2.78 M100.5 248.5h2.78 M720.5 248.5h-2.78 M100.5 247.5h2.78 M720.5 247.5h-2.78 M100.5 245.5h2.78 M720.5 245.5h-2.78 M100.5 244.5h2.78 M720.5 244.5h-2.78 M100.5 243.5h2.78 M720.5 243.5h-2.78 M100.5 241.5h2.78 M720.5 241.5h-2.78 M100.5 240.5h2.78 M720.5 240.5h-2.78" fill="none" stroke="#000" stroke-width="0.78"/>
<rect x="100.5" y="240.5" width="620" height="60" fill="none" stroke="#000" stroke-width="1.39"/>
<text class="t" transform="rotate(0.05 94.5 302.74)" x="94.5" y="302.74" text-anchor="end" textLength="10.60" lengthAdjust="spacingAndGlyphs">20</text>
<text class="t" transform="rotate(0.05 94.5 289.44)" x="94.5" y="289.44" text-anchor="end" textLength="10.60" lengthAdjust="spacingAndGlyphs">30</text>
<text class="t" transform="rotate(0.05 94.5 276.14)" x="94.5" y="276.14" text-anchor="end" textLength="10.60" lengthAdjust="spacingAndGlyphs">40</text>
<text class="t" transform="rotate(0.05 94.5 262.14)" x="94.5" y="262.14" text-anchor="end" textLength="10.60" lengthAdjust="spacingAndGlyphs">50</text>
<text class="t" transform="rotate(0.05 94.5 249.14)" x="94.5" y="249.14" text-anchor="end" textLength="10.60" lengthAdjust="spacingAndGlyphs">60</text>
<text class="t" transform="translate(74.30 271.60) rotate(-90)" text-anchor="middle" textLength="28.2" lengthAdjust="spacingAndGlyphs">AirTF()</text>
<g clip-path="url(#c3)">
<polyline points="100.00,377.60 105.00,375.90 110.00,374.50 115.00,373.25 120.00,369.60 125.00,367.00 128.75,366.10 131.90,367.10 135.60,371.10 140.60,370.90 145.00,370.50 148.75,370.90 155.00,373.00 158.75,373.60 161.25,373.40 163.10,374.90 165.00,378.00 168.00,384.25 171.25,386.40 176.25,385.50 182.50,383.90 186.90,382.75 190.00,382.75 193.00,382.40 196.90,380.50 200.00,380.90 203.75,382.60 206.90,381.10 210.00,381.75 214.40,382.10 218.00,382.75 221.90,382.75 225.60,381.50 229.40,382.60 233.00,382.10 238.75,381.50 241.90,382.10 245.60,383.40 248.75,381.75 251.90,379.50 255.00,380.75 258.00,369.25 261.50,360.50 264.40,358.60 267.75,362.00 271.25,360.10 274.40,359.50 277.50,356.60 280.60,355.50 284.40,351.75 287.50,349.00 290.60,348.40 293.75,347.10 296.90,346.75 300.40,345.50 303.75,346.40 306.90,347.75 310.00,347.75 313.00,347.40 316.25,348.60 319.40,346.50 322.75,358.90 326.25,359.25 329.40,360.25 332.75,363.25 336.00,362.00 339.00,358.60 342.50,358.60 345.60,357.60 348.75,355.25 351.90,351.75 355.00,348.60 358.00,351.75 361.25,348.00 365.00,344.40 368.00,341.50 371.25,339.40 374.60,338.00 380.00,337.40 386.25,336.75 392.50,336.40 397.50,336.10 402.50,336.50 407.50,336.75 411.25,338.25 416.25,341.10 422.50,340.75 426.25,338.60 432.50,337.40 436.25,338.25 439.40,340.50 442.50,346.10 446.25,349.25 449.40,352.40 452.50,356.10 457.50,359.00 461.90,362.00 465.00,364.50 468.00,364.40 471.25,366.10 474.40,366.50 477.50,365.50 481.25,368.25 486.25,368.50 491.25,368.60 496.90,369.00 500.60,368.00 503.75,367.75 506.90,369.25 510.00,368.90 513.00,371.50 516.25,373.60 519.40,374.25 523.00,376.75 526.25,378.60 529.40,379.90 532.75,378.40 535.60,379.90 539.00,382.60 542.25,379.25 545.60,381.50 548.75,383.10 552.30,384.80 558.75,384.50 561.90,382.40 565.00,382.60 568.00,384.25 571.25,383.40 574.60,381.10 577.75,383.00 581.25,384.90 584.40,385.90 587.50,385.10 590.60,385.90 594.00,385.25 597.25,385.75 600.60,384.90 604.00,387.40 607.25,385.50 610.25,385.10 613.50,383.60 616.90,385.50 620.00,383.40 623.00,382.60 626.50,379.25 630.00,379.50 633.00,379.90 636.00,378.20 639.40,373.60 642.50,369.90 645.90,367.75 649.00,368.90 652.50,373.00 655.60,375.90 658.75,377.10 661.60,375.50 665.00,377.00 668.00,376.10 671.25,373.90 675.00,369.90 678.00,368.90 681.25,368.40 684.40,369.60 687.50,371.40 692.50,372.75 697.50,373.90 701.25,374.90 705.00,374.75 710.00,374.50 715.00,374.60 720.00,374.75" fill="none" stroke="#0000ff" stroke-width="1.39" stroke-linejoin="round" stroke-linecap="butt"/>
</g>
<path d="M100.6 382.5H720 M100.6 371.5H720 M100.6 360.5H720 M100.6 349.5H720 M100.6 337.5H720 M100.5 390V330 M203.5 390V330 M307.5 390V330 M410.5 390V330 M513.5 390V330 M617.5 390V330 M720.5 390V330" fill="none" stroke="#000" stroke-width="0.72" stroke-dasharray="4.17 6.94 1.39 6.94"/>
<path d="M100.5 390.5v-5.56 M100.5 330.5v5.56 M203.5 390.5v-5.56 M203.5 330.5v5.56 M307.5 390.5v-5.56 M307.5 330.5v5.56 M410.5 390.5v-5.56 M410.5 330.5v5.56 M513.5 390.5v-5.56 M513.5 330.5v5.56 M617.5 390.5v-5.56 M617.5 330.5v5.56 M720.5 390.5v-5.56 M720.5 330.5v5.56 M100.5 390.5v-2.78 M100.5 330.5v2.78 M139.5 390.5v-2.78 M139.5 330.5v2.78 M178.5 390.5v-2.78 M178.5 330.5v2.78 M216.5 390.5v-2.78 M216.5 330.5v2.78 M255.5 390.5v-2.78 M255.5 330.5v2.78 M294.5 390.5v-2.78 M294.5 330.5v2.78 M333.5 390.5v-2.78 M333.5 330.5v2.78 M371.5 390.5v-2.78 M371.5 330.5v2.78 M410.5 390.5v-2.78 M410.5 330.5v2.78 M449.5 390.5v-2.78 M449.5 330.5v2.78 M488.5 390.5v-2.78 M488.5 330.5v2.78 M526.5 390.5v-2.78 M526.5 330.5v2.78 M565.5 390.5v-2.78 M565.5 330.5v2.78 M604.5 390.5v-2.78 M604.5 330.5v2.78 M643.5 390.5v-2.78 M643.5 330.5v2.78 M681.5 390.5v-2.78 M681.5 330.5v2.78 M720.5 390.5v-2.78 M720.5 330.5v2.78 M100.5 382.5h5.56 M720.5 382.5h-5.56 M100.5 371.5h5.56 M720.5 371.5h-5.56 M100.5 360.5h5.56 M720.5 360.5h-5.56 M100.5 349.5h5.56 M720.5 349.5h-5.56 M100.5 337.5h5.56 M720.5 337.5h-5.56 M100.5 390.5h2.78 M720.5 390.5h-2.78 M100.5 388.5h2.78 M720.5 388.5h-2.78 M100.5 387.5h2.78 M720.5 387.5h-2.78 M100.5 385.5h2.78 M720.5 385.5h-2.78 M100.5 384.5h2.78 M720.5 384.5h-2.78 M100.5 382.5h2.78 M720.5 382.5h-2.78 M100.5 381.5h2.78 M720.5 381.5h-2.78 M100.5 379.5h2.78 M720.5 379.5h-2.78 M100.5 378.5h2.78 M720.5 378.5h-2.78 M100.5 376.5h2.78 M720.5 376.5h-2.78 M100.5 375.5h2.78 M720.5 375.5h-2.78 M100.5 373.5h2.78 M720.5 373.5h-2.78 M100.5 372.5h2.78 M720.5 372.5h-2.78 M100.5 370.5h2.78 M720.5 370.5h-2.78 M100.5 369.5h2.78 M720.5 369.5h-2.78 M100.5 367.5h2.78 M720.5 367.5h-2.78 M100.5 366.5h2.78 M720.5 366.5h-2.78 M100.5 364.5h2.78 M720.5 364.5h-2.78 M100.5 363.5h2.78 M720.5 363.5h-2.78 M100.5 361.5h2.78 M720.5 361.5h-2.78 M100.5 360.5h2.78 M720.5 360.5h-2.78 M100.5 358.5h2.78 M720.5 358.5h-2.78 M100.5 357.5h2.78 M720.5 357.5h-2.78 M100.5 355.5h2.78 M720.5 355.5h-2.78 M100.5 354.5h2.78 M720.5 354.5h-2.78 M100.5 352.5h2.78 M720.5 352.5h-2.78 M100.5 351.5h2.78 M720.5 351.5h-2.78 M100.5 349.5h2.78 M720.5 349.5h-2.78 M100.5 348.5h2.78 M720.5 348.5h-2.78 M100.5 346.5h2.78 M720.5 346.5h-2.78 M100.5 345.5h2.78 M720.5 345.5h-2.78 M100.5 343.5h2.78 M720.5 343.5h-2.78 M100.5 342.5h2.78 M720.5 342.5h-2.78 M100.5 340.5h2.78 M720.5 340.5h-2.78 M100.5 339.5h2.78 M720.5 339.5h-2.78 M100.5 337.5h2.78 M720.5 337.5h-2.78 M100.5 336.5h2.78 M720.5 336.5h-2.78 M100.5 334.5h2.78 M720.5 334.5h-2.78 M100.5 333.5h2.78 M720.5 333.5h-2.78 M100.5 331.5h2.78 M720.5 331.5h-2.78 M100.5 330.5h2.78 M720.5 330.5h-2.78" fill="none" stroke="#000" stroke-width="0.78"/>
<rect x="100.5" y="330.5" width="620" height="60" fill="none" stroke="#000" stroke-width="1.39"/>
<text class="t" transform="rotate(0.05 94.5 385.14)" x="94.5" y="385.14" text-anchor="end" textLength="10.60" lengthAdjust="spacingAndGlyphs">30</text>
<text class="t" transform="rotate(0.05 94.5 374.14)" x="94.5" y="374.14" text-anchor="end" textLength="10.60" lengthAdjust="spacingAndGlyphs">45</text>
<text class="t" transform="rotate(0.05 94.5 362.44)" x="94.5" y="362.44" text-anchor="end" textLength="10.60" lengthAdjust="spacingAndGlyphs">60</text>
<text class="t" transform="rotate(0.05 94.5 351.44)" x="94.5" y="351.44" text-anchor="end" textLength="10.60" lengthAdjust="spacingAndGlyphs">75</text>
<text class="t" transform="rotate(0.05 94.5 340.14)" x="94.5" y="340.14" text-anchor="end" textLength="10.60" lengthAdjust="spacingAndGlyphs">90</text>
<text class="t" transform="translate(75.00 360.90) rotate(-90)" text-anchor="middle" textLength="25.9" lengthAdjust="spacingAndGlyphs">RH(%)</text>
<g clip-path="url(#c4)">
<polyline points="100.00,480.00 103.23,480.00 106.46,480.00 109.69,480.00 112.92,480.00 116.15,480.00 119.38,480.00 122.60,480.00 125.83,480.00 129.06,480.00 132.29,480.00 135.52,480.00 138.75,480.00 141.98,480.00 145.21,480.00 148.44,480.00 151.67,480.00 154.90,480.00 158.12,480.00 161.35,480.00 164.58,480.00 167.81,480.00 171.04,480.00 174.27,480.00 177.50,480.00 180.73,480.00 183.96,480.00 187.19,480.00 190.42,480.00 193.65,480.00 196.88,480.00 200.10,480.00 203.33,480.00 206.56,480.00 209.79,480.00 213.02,480.00 216.25,480.00 219.48,480.00 222.71,480.00 225.94,480.00 229.17,480.00 232.40,480.00 235.62,480.00 238.85,480.00 242.08,480.00 245.31,480.00 248.54,480.00 251.77,480.00 255.00,480.00 258.23,480.00 261.46,480.00 264.69,480.00 267.92,480.00 271.15,480.00 274.38,480.00 277.60,462.86 280.83,462.86 284.06,462.86 287.29,462.86 290.52,480.00 293.75,480.00 296.98,480.00 300.21,480.00 303.44,480.00 306.67,480.00 309.90,480.00 313.12,480.00 316.35,462.86 319.58,480.00 322.81,480.00 326.04,462.86 329.27,480.00 332.50,480.00 335.73,480.00 338.96,480.00 342.19,480.00 345.42,480.00 348.65,462.86 351.88,462.86 355.10,462.86 358.33,445.71 361.56,445.71 364.79,428.57 368.02,428.57 371.25,445.71 374.48,445.71 377.71,462.86 380.94,462.86 384.17,462.86 387.40,445.71 390.62,428.57 393.85,462.86 397.08,462.86 400.31,462.86 403.54,480.00 406.77,462.86 410.00,462.86 413.23,480.00 416.46,462.86 419.69,480.00 422.92,462.86 426.15,445.71 429.38,462.86 432.60,462.86 435.83,462.86 439.06,480.00 442.29,480.00 445.52,480.00 448.75,480.00 451.98,480.00 455.21,480.00 458.44,480.00 461.67,480.00 464.90,480.00 468.12,480.00 471.35,480.00 474.58,480.00 477.81,480.00 481.04,480.00 484.27,480.00 487.50,480.00 490.73,480.00 493.96,480.00 497.19,480.00 500.42,480.00 503.65,480.00 506.88,480.00 510.10,480.00 513.33,480.00 516.56,480.00 519.79,480.00 523.02,480.00 526.25,480.00 529.48,480.00 532.71,480.00 535.94,480.00 539.17,480.00 542.40,480.00 545.62,480.00 548.85,480.00 552.08,480.00 555.31,480.00 558.54,480.00 561.77,480.00 565.00,480.00 568.23,480.00 571.46,480.00 574.69,480.00 577.92,480.00 581.15,480.00 584.38,480.00 587.60,480.00 590.83,480.00 594.06,480.00 597.29,480.00 600.52,480.00 603.75,480.00 606.98,480.00 610.21,480.00 613.44,480.00 616.67,480.00 619.90,480.00 623.12,480.00 626.35,480.00 629.58,480.00 632.81,480.00 636.04,480.00 639.27,480.00 642.50,480.00 645.73,480.00 648.96,480.00 652.19,480.00 655.42,480.00 658.65,480.00 661.88,480.00 665.10,480.00 668.33,480.00 671.56,480.00 674.79,480.00 678.02,480.00 681.25,480.00 684.48,480.00 687.71,480.00 690.94,480.00 694.17,480.00 697.40,480.00 700.62,480.00 703.85,480.00 707.08,480.00 710.31,480.00 713.54,480.00 716.77,480.00 720.00,480.00" fill="none" stroke="#ff0000" stroke-width="1.39" stroke-linejoin="round" stroke-linecap="butt"/>
</g>
<path d="M100.6 480.5H720 M100.6 470.5H720 M100.6 459.5H720 M100.6 449.5H720 M100.6 439.5H720 M100.6 429.5H720 M100.5 480V420 M203.5 480V420 M307.5 480V420 M410.5 480V420 M513.5 480V420 M617.5 480V420 M720.5 480V420" fill="none" stroke="#000" stroke-width="0.72" stroke-dasharray="4.17 6.94 1.39 6.94"/>
<path d="M100.5 480.5v-5.56 M100.5 420.5v5.56 M203.5 480.5v-5.56 M203.5 420.5v5.56 M307.5 480.5v-5.56 M307.5 420.5v5.56 M410.5 480.5v-5.56 M410.5 420.5v5.56 M513.5 480.5v-5.56 M513.5 420.5v5.56 M617.5 480.5v-5.56 M617.5 420.5v5.56 M720.5 480.5v-5.56 M720.5 420.5v5.56 M100.5 480.5v-2.78 M100.5 420.5v2.78 M139.5 480.5v-2.78 M139.5 420.5v2.78 M178.5 480.5v-2.78 M178.5 420.5v2.78 M216.5 480.5v-2.78 M216.5 420.5v2.78 M255.5 480.5v-2.78 M255.5 420.5v2.78 M294.5 480.5v-2.78 M294.5 420.5v2.78 M333.5 480.5v-2.78 M333.5 420.5v2.78 M371.5 480.5v-2.78 M371.5 420.5v2.78 M410.5 480.5v-2.78 M410.5 420.5v2.78 M449.5 480.5v-2.78 M449.5 420.5v2.78 M488.5 480.5v-2.78 M488.5 420.5v2.78 M526.5 480.5v-2.78 M526.5 420.5v2.78 M565.5 480.5v-2.78 M565.5 420.5v2.78 M604.5 480.5v-2.78 M604.5 420.5v2.78 M643.5 480.5v-2.78 M643.5 420.5v2.78 M681.5 480.5v-2.78 M681.5 420.5v2.78 M720.5 480.5v-2.78 M720.5 420.5v2.78 M100.5 480.5h5.56 M720.5 480.5h-5.56 M100.5 470.5h5.56 M720.5 470.5h-5.56 M100.5 459.5h5.56 M720.5 459.5h-5.56 M100.5 449.5h5.56 M720.5 449.5h-5.56 M100.5 439.5h5.56 M720.5 439.5h-5.56 M100.5 429.5h5.56 M720.5 429.5h-5.56 M100.5 480.5h2.78 M720.5 480.5h-2.78 M100.5 479.5h2.78 M720.5 479.5h-2.78 M100.5 477.5h2.78 M720.5 477.5h-2.78 M100.5 476.5h2.78 M720.5 476.5h-2.78 M100.5 475.5h2.78 M720.5 475.5h-2.78 M100.5 473.5h2.78 M720.5 473.5h-2.78 M100.5 472.5h2.78 M720.5 472.5h-2.78 M100.5 470.5h2.78 M720.5 470.5h-2.78 M100.5 469.5h2.78 M720.5 469.5h-2.78 M100.5 468.5h2.78 M720.5 468.5h-2.78 M100.5 466.5h2.78 M720.5 466.5h-2.78 M100.5 465.5h2.78 M720.5 465.5h-2.78 M100.5 464.5h2.78 M720.5 464.5h-2.78 M100.5 462.5h2.78 M720.5 462.5h-2.78 M100.5 461.5h2.78 M720.5 461.5h-2.78 M100.5 459.5h2.78 M720.5 459.5h-2.78 M100.5 458.5h2.78 M720.5 458.5h-2.78 M100.5 457.5h2.78 M720.5 457.5h-2.78 M100.5 455.5h2.78 M720.5 455.5h-2.78 M100.5 454.5h2.78 M720.5 454.5h-2.78 M100.5 453.5h2.78 M720.5 453.5h-2.78 M100.5 451.5h2.78 M720.5 451.5h-2.78 M100.5 450.5h2.78 M720.5 450.5h-2.78 M100.5 448.5h2.78 M720.5 448.5h-2.78 M100.5 447.5h2.78 M720.5 447.5h-2.78 M100.5 446.5h2.78 M720.5 446.5h-2.78 M100.5 444.5h2.78 M720.5 444.5h-2.78 M100.5 443.5h2.78 M720.5 443.5h-2.78 M100.5 442.5h2.78 M720.5 442.5h-2.78 M100.5 440.5h2.78 M720.5 440.5h-2.78 M100.5 439.5h2.78 M720.5 439.5h-2.78 M100.5 437.5h2.78 M720.5 437.5h-2.78 M100.5 436.5h2.78 M720.5 436.5h-2.78 M100.5 435.5h2.78 M720.5 435.5h-2.78 M100.5 433.5h2.78 M720.5 433.5h-2.78 M100.5 432.5h2.78 M720.5 432.5h-2.78 M100.5 431.5h2.78 M720.5 431.5h-2.78 M100.5 429.5h2.78 M720.5 429.5h-2.78 M100.5 428.5h2.78 M720.5 428.5h-2.78 M100.5 427.5h2.78 M720.5 427.5h-2.78 M100.5 425.5h2.78 M720.5 425.5h-2.78 M100.5 424.5h2.78 M720.5 424.5h-2.78 M100.5 422.5h2.78 M720.5 422.5h-2.78 M100.5 421.5h2.78 M720.5 421.5h-2.78" fill="none" stroke="#000" stroke-width="0.78"/>
<rect x="100.5" y="420.5" width="620" height="60" fill="none" stroke="#000" stroke-width="1.39"/>
<text class="t" transform="rotate(0.05 94.5 481.74)" x="94.5" y="481.74" text-anchor="end" textLength="23.85" lengthAdjust="spacingAndGlyphs">0.000</text>
<text class="t" transform="rotate(0.05 94.5 471.84)" x="94.5" y="471.84" text-anchor="end" textLength="23.85" lengthAdjust="spacingAndGlyphs">0.006</text>
<text class="t" transform="rotate(0.05 94.5 461.84)" x="94.5" y="461.84" text-anchor="end" textLength="23.85" lengthAdjust="spacingAndGlyphs">0.012</text>
<text class="t" transform="rotate(0.05 94.5 452.14)" x="94.5" y="452.14" text-anchor="end" textLength="23.85" lengthAdjust="spacingAndGlyphs">0.018</text>
<text class="t" transform="rotate(0.05 94.5 441.44)" x="94.5" y="441.44" text-anchor="end" textLength="23.85" lengthAdjust="spacingAndGlyphs">0.024</text>
<text class="t" transform="rotate(0.05 94.5 431.14)" x="94.5" y="431.14" text-anchor="end" textLength="23.85" lengthAdjust="spacingAndGlyphs">0.030</text>
<text class="t" transform="translate(62.00 451.70) rotate(-90)" text-anchor="middle" textLength="54.2" lengthAdjust="spacingAndGlyphs">Rainfall_Tot()</text>
<g transform="translate(92.40 492.40) rotate(-30)"><text class="x" x="0" y="0" text-anchor="end" textLength="50.6" lengthAdjust="spacingAndGlyphs">2020-05-08</text><text class="x" x="2.6" y="9.7" text-anchor="end" textLength="24.6" lengthAdjust="spacingAndGlyphs">00:00</text></g>
<g transform="translate(195.73 492.40) rotate(-30)"><text class="x" x="0" y="0" text-anchor="end" textLength="50.6" lengthAdjust="spacingAndGlyphs">2020-05-08</text><text class="x" x="2.6" y="9.7" text-anchor="end" textLength="24.6" lengthAdjust="spacingAndGlyphs">08:00</text></g>
<g transform="translate(299.07 492.40) rotate(-30)"><text class="x" x="0" y="0" text-anchor="end" textLength="50.6" lengthAdjust="spacingAndGlyphs">2020-05-08</text><text class="x" x="2.6" y="9.7" text-anchor="end" textLength="24.6" lengthAdjust="spacingAndGlyphs">16:00</text></g>
<g transform="translate(402.40 492.40) rotate(-30)"><text class="x" x="0" y="0" text-anchor="end" textLength="50.6" lengthAdjust="spacingAndGlyphs">2020-05-09</text><text class="x" x="2.6" y="9.7" text-anchor="end" textLength="24.6" lengthAdjust="spacingAndGlyphs">00:00</text></g>
<g transform="translate(505.73 492.40) rotate(-30)"><text class="x" x="0" y="0" text-anchor="end" textLength="50.6" lengthAdjust="spacingAndGlyphs">2020-05-09</text><text class="x" x="2.6" y="9.7" text-anchor="end" textLength="24.6" lengthAdjust="spacingAndGlyphs">08:00</text></g>
<g transform="translate(609.07 492.40) rotate(-30)"><text class="x" x="0" y="0" text-anchor="end" textLength="50.6" lengthAdjust="spacingAndGlyphs">2020-05-09</text><text class="x" x="2.6" y="9.7" text-anchor="end" textLength="24.6" lengthAdjust="spacingAndGlyphs">16:00</text></g>
<g transform="translate(712.40 492.40) rotate(-30)"><text class="x" x="0" y="0" text-anchor="end" textLength="50.6" lengthAdjust="spacingAndGlyphs">2020-05-10</text><text class="x" x="2.6" y="9.7" text-anchor="end" textLength="24.6" lengthAdjust="spacingAndGlyphs">00:00</text></g>
<text class="t" transform="rotate(0.03 399.8 19.8)" x="399.8" y="19.8" text-anchor="middle" textLength="116.2" lengthAdjust="spacingAndGlyphs">Site18_MDC_School_Fifteen</text>
<text class="t" transform="rotate(0.03 400.2 28.8)" x="400.2" y="28.8" text-anchor="middle" textLength="105.4" lengthAdjust="spacingAndGlyphs">2020-05-10 - (2020-131)</text>
<text x="410" y="549.5" text-anchor="middle" style="font-size:17.6px" textLength="85" lengthAdjust="spacingAndGlyphs">Date/Time</text>
</svg>
</body></html>
